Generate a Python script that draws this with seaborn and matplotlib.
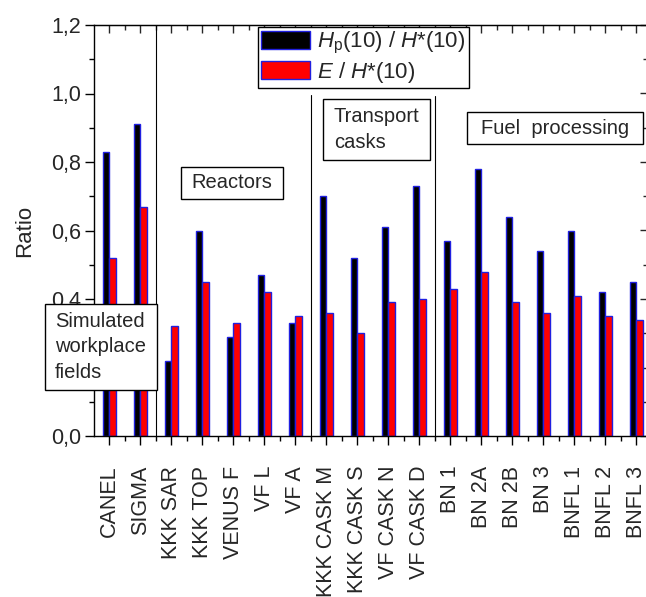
import numpy as np
import pandas as pd
import matplotlib
matplotlib.use("Agg")
import matplotlib.pyplot as plt
import seaborn as sns
from matplotlib.patches import Rectangle
from matplotlib.ticker import FixedLocator, MultipleLocator

# ---- data ----
sites = ["CANEL", "SIGMA", "KKK SAR", "KKK TOP", "VENUS F", "VF L", "VF A",
         "KKK CASK M", "KKK CASK S", "VF CASK N", "VF CASK D",
         "BN 1", "BN 2A", "BN 2B", "BN 3", "BNFL 1", "BNFL 2", "BNFL 3"]
hp_ratio = [0.83, 0.91, 0.22, 0.60, 0.29, 0.47, 0.33,
            0.70, 0.52, 0.61, 0.73,
            0.57, 0.78, 0.64, 0.54, 0.60, 0.42, 0.45]
e_ratio = [0.52, 0.67, 0.32, 0.45, 0.33, 0.42, 0.35,
           0.36, 0.30, 0.39, 0.40,
           0.43, 0.48, 0.39, 0.36, 0.41, 0.35, 0.34]
series_labels = [r"$H_{\mathrm{p}}$(10) / $H$*(10)", r"$E$ / $H$*(10)"]
group_labels = ["Simulated\nworkplace\nfields", "Reactors", "Transport\ncasks", "Fuel  processing"]
y_ticks = [0.0, 0.2, 0.4, 0.6, 0.8, 1.0, 1.2]
y_tick_labels = ["0,0", "", "0,4", "0,6", "0,8", "1,0", "1,2"]  # 0,2 is hidden behind a box

df = pd.DataFrame({
    "site": sites * 2,
    "value": hp_ratio + e_ratio,
    "quantity": [series_labels[0]] * len(sites) + [series_labels[1]] * len(sites),
})

sns.set_style("ticks")
plt.rcParams["font.family"] = ["Liberation Sans", "DejaVu Sans"]
plt.rcParams["mathtext.fontset"] = "custom"
plt.rcParams["mathtext.rm"] = "Liberation Sans"
plt.rcParams["mathtext.it"] = "Liberation Sans:italic"
plt.rcParams["mathtext.bf"] = "Liberation Sans:bold"

fig = plt.figure(figsize=(6.46, 5.97), dpi=100)
W, H = 646, 597
ax = fig.add_axes([94 / W, 1 - 436 / H, (648 - 94) / W, (436 - 25) / H])

sns.barplot(data=df, x="site", y="value", hue="quantity", order=sites,
            hue_order=series_labels, palette=["#000000", "#ff0000"], saturation=1,
            width=0.42, edgecolor="#2020e0", linewidth=1.0, errorbar=None, ax=ax)

ax.set_xlim(-0.49, 17.38)
ax.set_ylim(0, 1.2)
ax.set_xlabel("")
ax.set_ylabel("Ratio", fontsize=16, labelpad=11)

ax.set_yticks(y_ticks)
ax.set_yticklabels(y_tick_labels, fontsize=15.5)
ax.yaxis.set_minor_locator(MultipleLocator(0.1))
ax.xaxis.set_major_locator(FixedLocator(np.arange(len(sites))))
ax.set_xticklabels(sites, rotation=90, fontsize=15.5)
ax.xaxis.set_minor_locator(FixedLocator(np.arange(len(sites)) + 0.5))
ax.tick_params(axis="both", which="major", direction="out", length=6.5, width=1.0, color="black")
ax.tick_params(axis="both", which="minor", direction="out", length=3.5, width=1.0, color="black")
ax.tick_params(axis="x", which="major", pad=15)
ax.tick_params(axis="y", which="major", pad=3)
for s in ax.spines.values():
    s.set_visible(True)
    s.set_linewidth(1.0)
    s.set_color("black")

top = ax.secondary_xaxis("top")
top.xaxis.set_major_locator(FixedLocator(np.arange(len(sites))))
top.xaxis.set_minor_locator(FixedLocator(np.arange(len(sites)) + 0.5))
top.tick_params(which="major", direction="in", length=6, width=1.0, labeltop=False)
top.tick_params(which="minor", direction="in", length=3.5, width=1.0)

right = ax.secondary_yaxis("right")
right.yaxis.set_major_locator(MultipleLocator(0.2))
right.yaxis.set_minor_locator(MultipleLocator(0.1))
right.tick_params(which="major", direction="in", length=6, width=1.0, labelright=False)
right.tick_params(which="minor", direction="in", length=3.5, width=1.0)

# separators between groups
ax.axvline(1.5, ymin=0, ymax=1, color="black", lw=0.8)
ax.axvline(6.5, ymin=0, ymax=(436 - 95) / 411, color="black", lw=0.8)
ax.axvline(10.5, ymin=0, ymax=(436 - 96) / 411, color="black", lw=0.8)

# legend
handles, labels = ax.get_legend_handles_labels()
leg = ax.legend(handles, labels, loc="upper left",
                bbox_to_anchor=(258 / W, 1 - 27 / H), bbox_transform=fig.transFigure,
                fontsize=16, frameon=True, fancybox=False, edgecolor="black",
                framealpha=1, handlelength=2.2, handleheight=0.85, handletextpad=0.3,
                borderpad=0.15, labelspacing=0.15, borderaxespad=0)
leg.get_frame().set_linewidth(1.0)


def fig_box(x0, y0, x1, y1):
    r = Rectangle((x0 / W, 1 - y1 / H), (x1 - x0) / W, (y1 - y0) / H,
                  transform=fig.transFigure, facecolor="white", edgecolor="black",
                  linewidth=1.0, zorder=5)
    fig.add_artist(r)


fs_box = 14.5
fig_box(45, 304, 157, 390)
fig.text(55 / W, 1 - 347 / H, group_labels[0], fontsize=fs_box, ha="left", va="center",
         linespacing=1.45, zorder=6)
fig_box(181, 167, 283, 199)
fig.text(232 / W, 1 - 183 / H, group_labels[1], fontsize=fs_box, ha="center", va="center", zorder=6)
fig_box(323, 99, 430, 160)
fig.text(334 / W, 1 - 129.5 / H, group_labels[2], fontsize=fs_box, ha="left", va="center",
         linespacing=1.45, zorder=6)
fig_box(467, 112, 643, 144)
fig.text(555 / W, 1 - 128 / H, group_labels[3], fontsize=fs_box, ha="center", va="center", zorder=6)

fig.savefig("out.png", dpi=100)
